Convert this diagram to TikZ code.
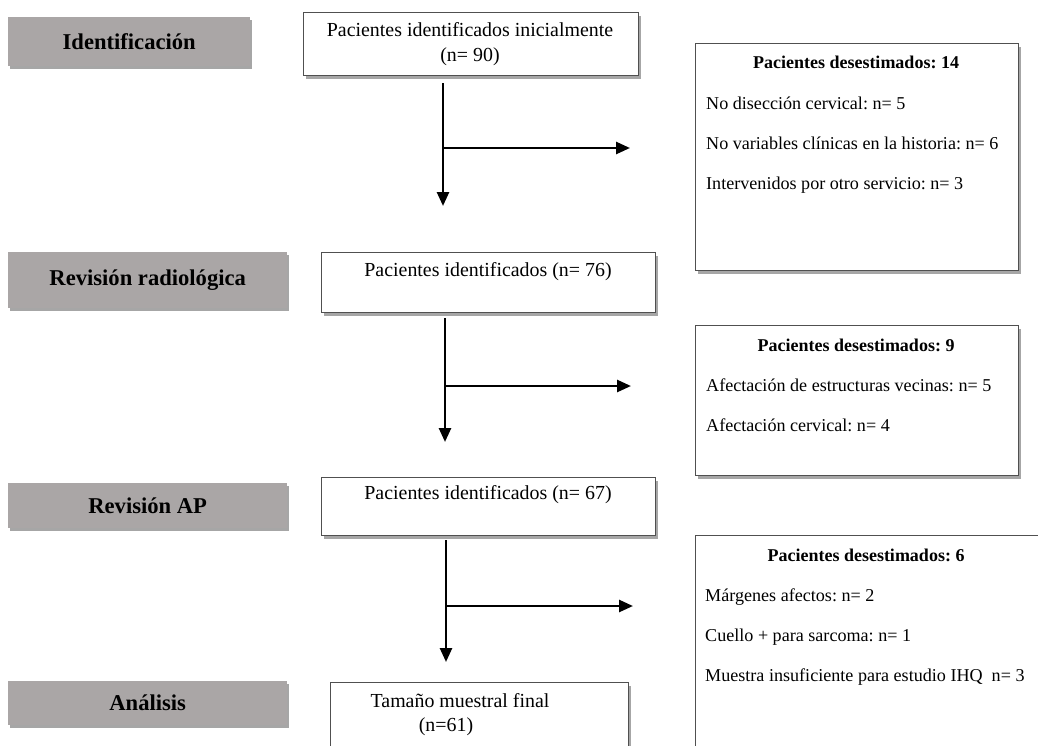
\documentclass[tikz,border=0pt]{standalone}
\usepackage{fontspec}
\setmainfont{Liberation Serif}
\usetikzlibrary{arrows.meta}
\usetikzlibrary{shadows}
\definecolor{stagegray}{RGB}{170,166,166}
\definecolor{boxline}{RGB}{80,80,80}
\frenchspacing

\begin{document}
\begin{tikzpicture}[x=1pt,y=-1pt]
	\tikzset{stage/.style={fill=stagegray, draw=none, anchor=north west, inner sep=0pt,
			font=\fontsize{22.6}{26}\selectfont\bfseries,
			drop shadow={shadow xshift=2pt, shadow yshift=-3pt, fill=black, opacity=0.35}}}
	\tikzset{patbox/.style={draw=boxline, fill=white, line width=1pt, anchor=north west, inner sep=0pt,
			drop shadow={shadow xshift=2pt, shadow yshift=-3pt, fill=black, opacity=0.35}}}
	\tikzset{boxtext/.style={font=\fontsize{19.9}{25}\selectfont, align=center, inner sep=0pt}}
	\tikzset{exctitle/.style={font=\fontsize{18}{21}\selectfont\bfseries, inner sep=0pt}}
	\tikzset{exctext/.style={font=\fontsize{18.1}{21}\selectfont, anchor=west, inner sep=0pt}}
	\tikzset{flow/.style={-{Triangle[length=14pt,width=12pt]}, line width=2.6pt}}
	
	% Fix the size of the picture
	\useasboundingbox (0,0) rectangle (1038,745);
	\clip (0,0) rectangle (1038,745);
	
	% Stage labels on the left
	\node[stage, minimum width=242pt, minimum height=49pt] (ident) at (8,17) {Identificación};
	\node[stage, minimum width=279pt, minimum height=56pt] (radio) at (8,252) {Revisión radiológica};
	\node[stage, minimum width=279pt, minimum height=45pt] (revap) at (8,483) {Revisión AP};
	\node[stage, minimum width=279pt, minimum height=44pt] (analisis) at (8,681) {Análisis};
	
	% Patient boxes
	\node[patbox, minimum width=335pt, minimum height=63pt] (pac1) at (303,12) {};
	\node[boxtext] (pac1t) at (470,44) {Pacientes identificados inicialmente\\(n= 90)};
	
	\node[patbox, minimum width=334pt, minimum height=60pt] (pac2) at (321,252) {};
	\node[boxtext] (pac2t) at (488,272) {Pacientes identificados (n= 76)};
	
	\node[patbox, minimum width=334pt, minimum height=58pt] (pac3) at (321,477) {};
	\node[boxtext] (pac3t) at (488,495) {Pacientes identificados (n= 67)};
	
	\node[patbox, minimum width=298pt, minimum height=90pt] (final) at (330,682) {};
	\node[boxtext] (finalt) at (460,701) {Tamaño muestral final};
	\node[boxtext] (finaln) at (446,727) {(n=61)};
	
	% Excluded patients, first step
	\node[patbox, minimum width=323pt, minimum height=227pt] (exc1) at (695,43) {};
	\node[exctitle] (exc1t) at (856,62) {Pacientes desestimados: 14};
	\node[exctext] (exc1a) at (706,103) {No disección cervical: n= 5};
	\node[exctext] (exc1b) at (706,143) {No variables clínicas en la historia: n= 6};
	\node[exctext] (exc1c) at (706,185) {Intervenidos por otro servicio: n= 3};
	
	% Excluded patients, second step
	\node[patbox, minimum width=323pt, minimum height=150pt] (exc2) at (695,325) {};
	\node[exctitle] (exc2t) at (856,345) {Pacientes desestimados: 9};
	\node[exctext] (exc2a) at (706,385) {Afectación de estructuras vecinas: n= 5};
	\node[exctext] (exc2b) at (706,425) {Afectación cervical: n= 4};
	
	% Excluded patients, third step
	\node[patbox, minimum width=360pt, minimum height=240pt] (exc3) at (695,535) {};
	\node[exctitle] (exc3t) at (866,555) {Pacientes desestimados: 6};
	\node[exctext] (exc3a) at (705,597) {Márgenes afectos: n= 2};
	\node[exctext] (exc3b) at (705,637) {Cuello + para sarcoma: n= 1};
	\node[exctext] (exc3c) at (705,677) {Muestra insuficiente para estudio IHQ~ n= 3};
	
	% Arrow ends
	\coordinate (a1top) at (443,83);
	\coordinate (a1mid) at (443,148);
	\coordinate (a1end) at (443,206);
	\coordinate (a1side) at (630,148);
	
	\coordinate (a2top) at (445,318);
	\coordinate (a2mid) at (445,386);
	\coordinate (a2end) at (445,442);
	\coordinate (a2side) at (631,386);
	
	\coordinate (a3top) at (446,540);
	\coordinate (a3mid) at (446,606);
	\coordinate (a3end) at (446,662);
	\coordinate (a3side) at (633,606);
	
	% Arrows
	\draw[flow] (a1top) -- (a1end);
	\draw[flow] (a1mid) -- (a1side);
	\draw[flow] (a2top) -- (a2end);
	\draw[flow] (a2mid) -- (a2side);
	\draw[flow] (a3top) -- (a3end);
	\draw[flow] (a3mid) -- (a3side);
	
\end{tikzpicture}
\end{document}
